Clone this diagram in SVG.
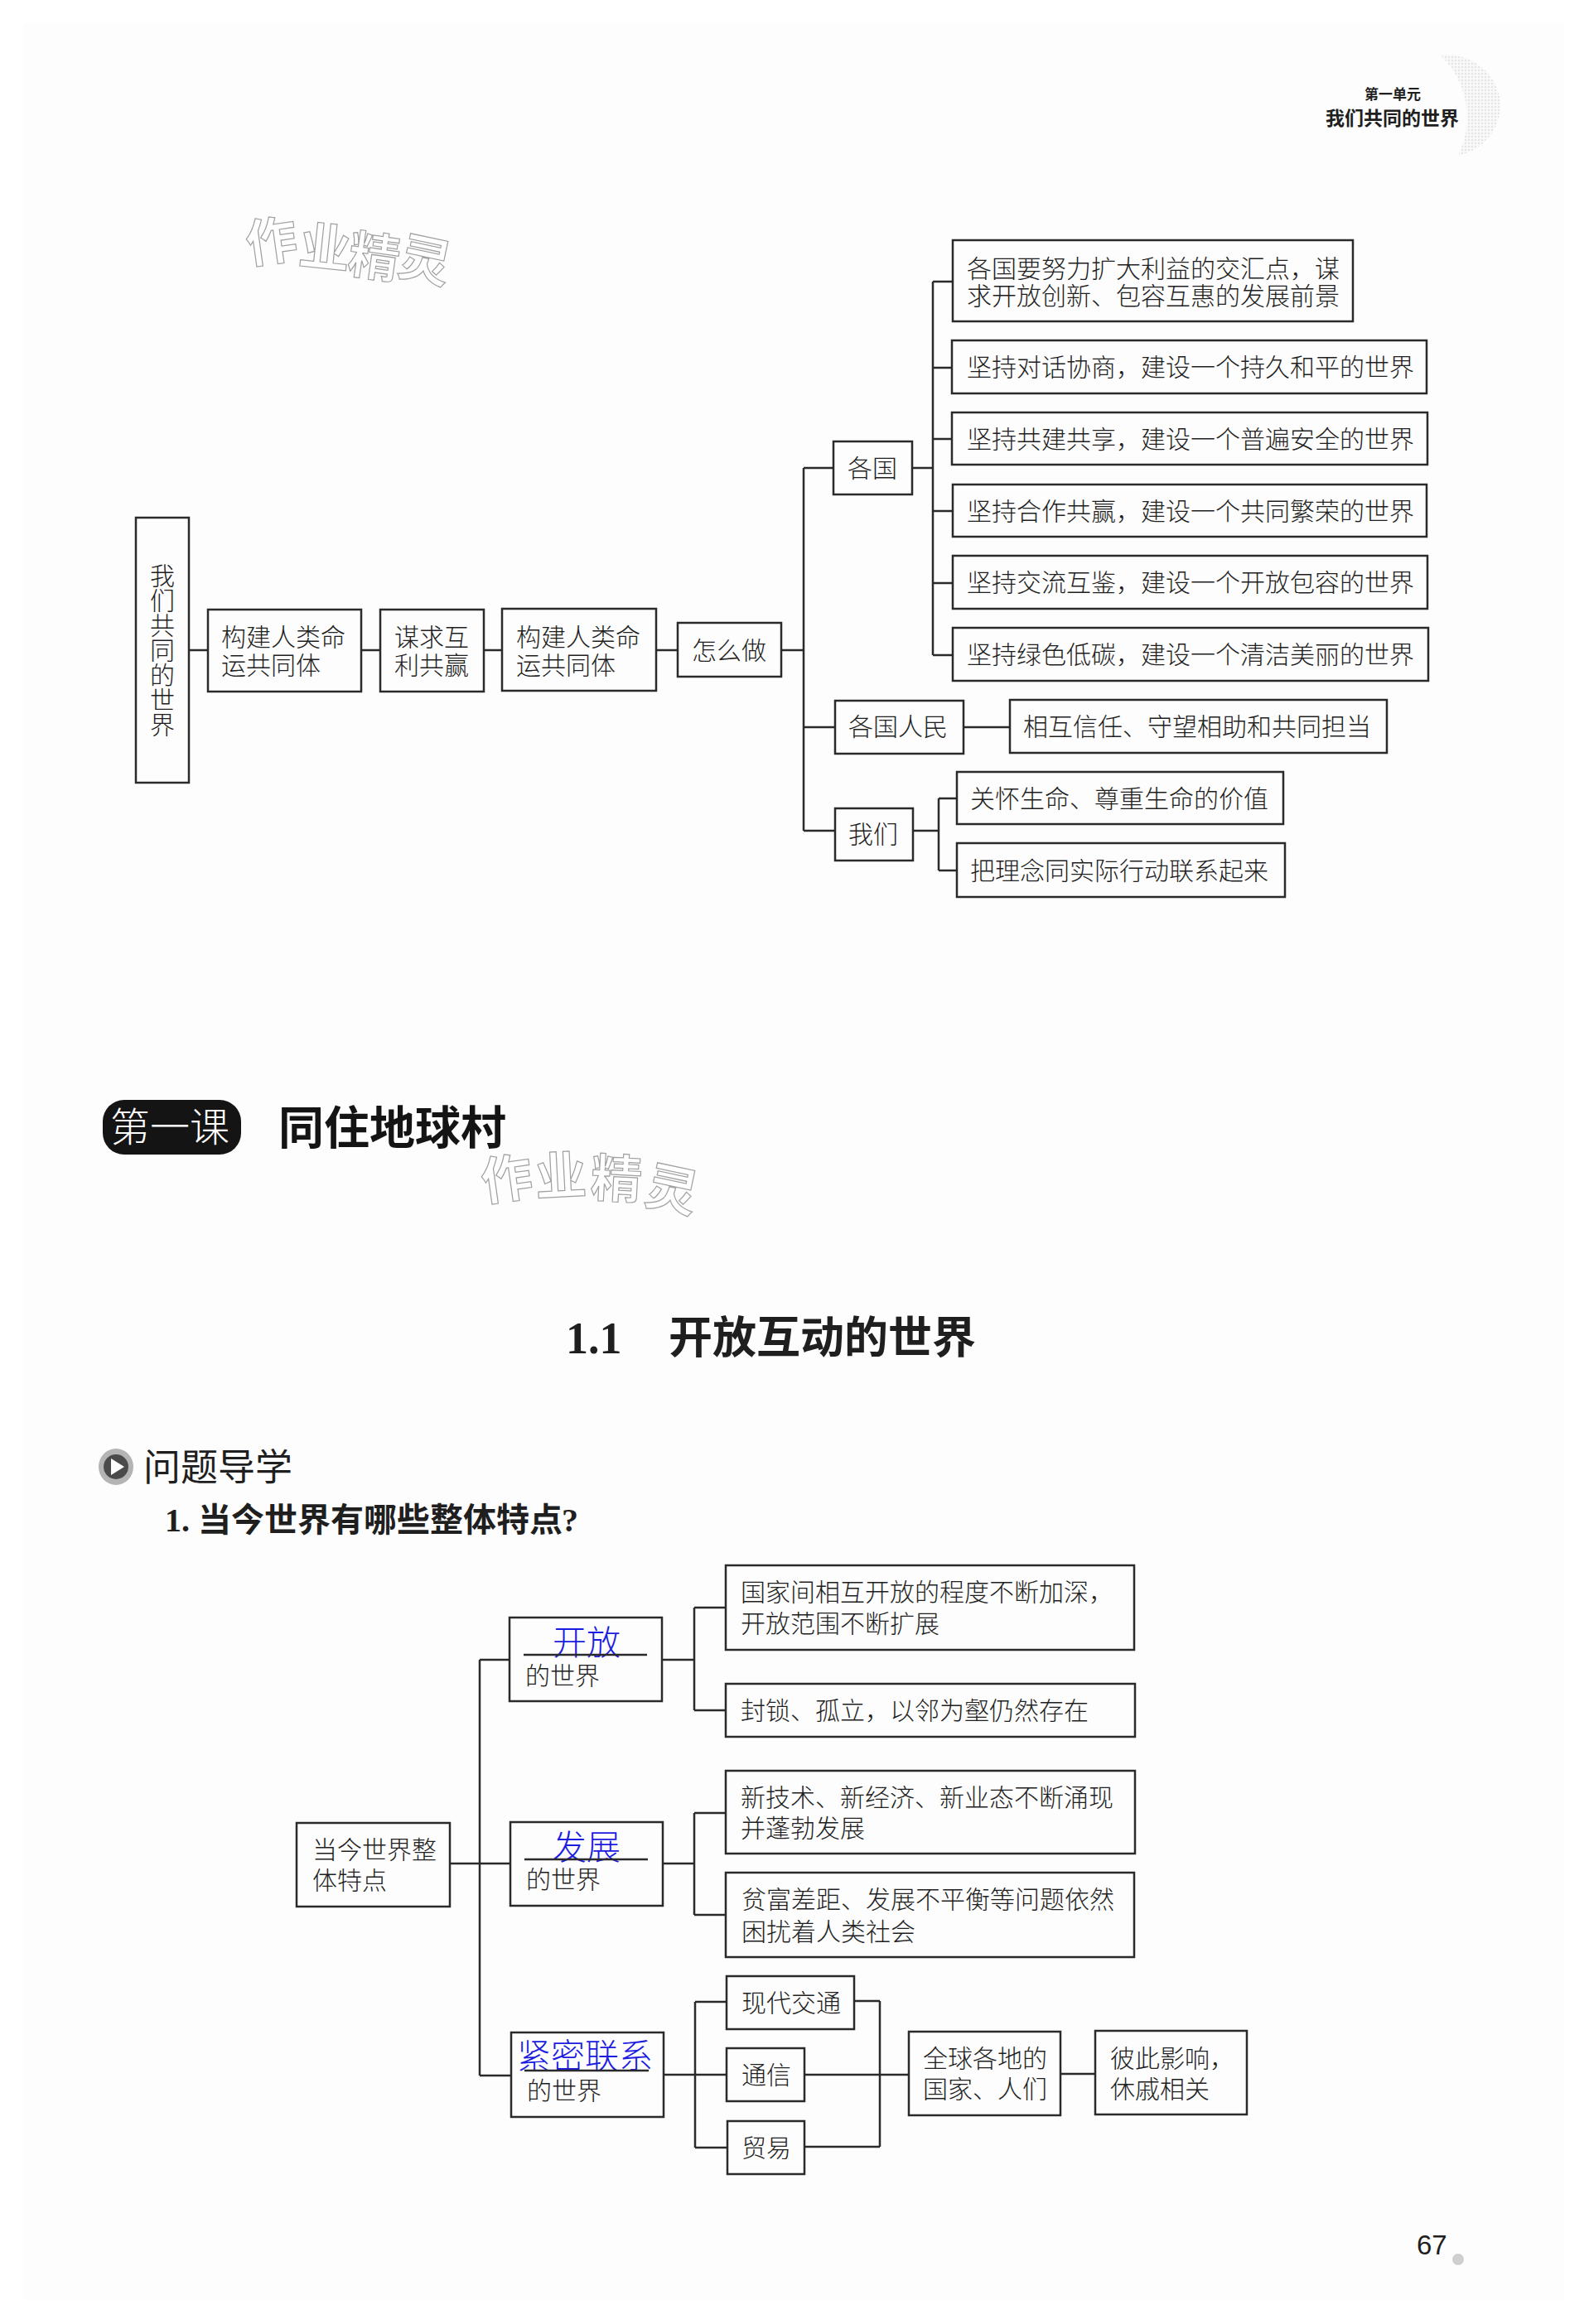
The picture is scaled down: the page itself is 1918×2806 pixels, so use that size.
<svg xmlns="http://www.w3.org/2000/svg" width="1918" height="2806" viewBox="0 0 1918 2806">
<defs><pattern id="stipple" width="4" height="4" patternUnits="userSpaceOnUse"><rect width="4" height="4" fill="#f8f8f8"/><rect width="2" height="2" fill="#e4e4e4"/></pattern></defs>
<style>
text{font-family:"Noto Sans CJK SC","Noto Sans",sans-serif;fill:#1f1f1f}
.t{font-size:30px;font-weight:300}
.s{font-size:30px;font-weight:300}
.b{fill:#1c1ce0;font-size:41px;font-weight:300}
rect.n{fill:#fdfdfd;stroke:#2a2a2a;stroke-width:2.5}
#connectors path{fill:none;stroke:#2a2a2a;stroke-width:2.5}
.u{stroke:#2a2a2a;stroke-width:2.5}
.wm{font-size:62px;font-weight:700;fill:#fff;stroke:#a0a0a0;stroke-width:1.2}
</style>
<rect width="1918" height="2806" fill="#ffffff"/>
<rect x="28" y="28" width="1860" height="2750" fill="#fdfdfd"/>
<path id="decor" d="M1738 66A66 62 0 0 1 1760 188A104 104 0 0 0 1738 66Z" fill="url(#stipple)"/>
<g id="header">
<text x="1647" y="120" style="font-size:17px;font-weight:700">第一单元</text>
<text x="1600" y="151" style="font-size:23px;font-weight:700">我们共同的世界</text>
</g>
<g id="watermarks">
<text class="wm" x="300 359 418 478" y="318 318 328 330" rotate="-8 6 8 12">作业精灵</text>
<text class="wm" x="584 647 712 776" y="1450 1444 1444 1452" rotate="-8 -3 3 12">作业精灵</text>
</g>
<g id="connectors">
<path d="M228 785H251M436 785H459M584 785H606M792 785H818M943 785H970"/>
<path d="M970 565V1003M970 565H1006M970 878H1008M970 1003H1008"/>
<path d="M1101 565H1126M1126 340V791M1126 340H1150M1126 444H1149M1126 530H1149M1126 617H1150M1126 704H1150M1126 791H1150"/>
<path d="M1163 878H1219"/>
<path d="M1102 1003H1133M1133 964V1051M1133 964H1155M1133 1051H1155"/>
<path d="M543 2250H616M579 2004V2506M579 2004H615M579 2506H617"/>
<path d="M799 2004H838M838 1941V2065M838 1941H876M838 2065H876"/>
<path d="M800 2250H838M838 2189V2312M838 2189H876M838 2312H876"/>
<path d="M801 2505H877M839 2417V2593M839 2417H877M839 2593H878"/>
<path d="M1031 2416H1062M971 2592H1062M1062 2416V2592M971 2505H1097M1280 2504H1322"/>
</g>
<g id="root"><rect class="n" x="164" y="625" width="64" height="320"/><text class="t" x="196" y="680" style="writing-mode:vertical-rl">我们共同的世界</text></g>
<g id="n-goujian1"><rect class="n" x="251" y="736" width="185" height="99"/><text class="t" x="267" y="780">构建人类命</text><text class="t" x="267" y="814">运共同体</text></g>
<g id="n-mouqiu"><rect class="n" x="459" y="736" width="125" height="99"/><text class="t" x="476" y="780">谋求互</text><text class="t" x="476" y="814">利共赢</text></g>
<g id="n-goujian2"><rect class="n" x="606" y="735" width="186" height="99"/><text class="t" x="623" y="780">构建人类命</text><text class="t" x="623" y="814">运共同体</text></g>
<g id="n-zenme"><rect class="n" x="818" y="752" width="125" height="65"/><text class="t" x="835" y="796">怎么做</text></g>
<g id="n-geguo"><rect class="n" x="1006" y="533" width="95" height="64"/><text class="t" x="1023" y="576">各国</text></g>
<g id="n-a1"><rect class="n" x="1150" y="290" width="483" height="98"/><text class="t" x="1167" y="335">各国要努力扩大利益的交汇点&#65292;谋</text><text class="t" x="1167" y="368">求开放创新、包容互惠的发展前景</text></g>
<g id="n-a2"><rect class="n" x="1149" y="411" width="573" height="64"/><text class="t" x="1167" y="454">坚持对话协商&#65292;建设一个持久和平的世界</text></g>
<g id="n-a3"><rect class="n" x="1149" y="498" width="574" height="63"/><text class="t" x="1167" y="541">坚持共建共享&#65292;建设一个普遍安全的世界</text></g>
<g id="n-a4"><rect class="n" x="1150" y="585" width="572" height="63"/><text class="t" x="1167" y="628">坚持合作共赢&#65292;建设一个共同繁荣的世界</text></g>
<g id="n-a5"><rect class="n" x="1150" y="671" width="573" height="64"/><text class="t" x="1167" y="714">坚持交流互鉴&#65292;建设一个开放包容的世界</text></g>
<g id="n-a6"><rect class="n" x="1150" y="758" width="574" height="64"/><text class="t" x="1167" y="801">坚持绿色低碳&#65292;建设一个清洁美丽的世界</text></g>
<g id="n-gemin"><rect class="n" x="1008" y="846" width="155" height="64"/><text class="t" x="1024" y="888">各国人民</text></g>
<g id="n-xianghu"><rect class="n" x="1219" y="845" width="455" height="64"/><text class="t" x="1235" y="888">相互信任、守望相助和共同担当</text></g>
<g id="n-women"><rect class="n" x="1008" y="976" width="94" height="63"/><text class="t" x="1024" y="1018">我们</text></g>
<g id="n-guanhuai"><rect class="n" x="1155" y="932" width="394" height="63"/><text class="t" x="1171" y="975">关怀生命、尊重生命的价值</text></g>
<g id="n-ba"><rect class="n" x="1155" y="1018" width="396" height="65"/><text class="t" x="1171" y="1062">把理念同实际行动联系起来</text></g>
<g id="lesson">
<rect x="124" y="1328" width="167" height="66" rx="26" fill="#141414"/>
<text x="133" y="1378" style="font-size:48px;font-weight:300;fill:#fff">第一课</text>
<text x="336" y="1381" style="font-size:55px;font-weight:700;fill:#141414">同住地球村</text>
</g>
<g id="section">
<text x="683" y="1634" style="font-family:'Liberation Serif',serif;font-size:54px;font-weight:700">1.1</text>
<text x="807" y="1634" style="font-size:53px;font-weight:700">开放互动的世界</text>
</g>
<g id="daoxue">
<ellipse cx="140" cy="1771" rx="21" ry="22" fill="#b4b4b4"/>
<circle cx="140" cy="1771" r="15" fill="#4a4a4a"/>
<path d="M134 1761L150 1771L134 1781Z" fill="#fff"/>
<text x="173" y="1788" style="font-size:45px;font-weight:400">问题导学</text>
</g>
<g id="question">
<text x="199" y="1849" style="font-family:'Liberation Serif',serif;font-size:40px;font-weight:700">1.</text>
<text x="239" y="1849" style="font-size:40px;font-weight:700">当今世界有哪些整体特点</text>
<text x="678" y="1849" style="font-family:'Liberation Serif',serif;font-size:40px;font-weight:700">?</text>
</g>
<g id="m-root"><rect class="n" x="358" y="2201" width="185" height="101"/><text class="s" x="377" y="2244">当今世界整</text><text class="s" x="377" y="2281">体特点</text></g>
<g id="m-kaifang"><rect class="n" x="615" y="1953" width="184" height="101"/><text class="b" x="667" y="1998">开放</text><line class="u" x1="632" y1="1998" x2="781" y2="1998"/><text class="s" x="634" y="2034">的世界</text></g>
<g id="m-fazhan"><rect class="n" x="616" y="2200" width="184" height="101"/><text class="b" x="667" y="2245">发展</text><line class="u" x1="633" y1="2245" x2="782" y2="2245"/><text class="s" x="635" y="2280">的世界</text></g>
<g id="m-jinmi"><rect class="n" x="617" y="2454" width="184" height="102"/><text class="b" x="624" y="2497">紧密联系</text><line class="u" x1="633" y1="2500" x2="783" y2="2500"/><text class="s" x="636" y="2535">的世界</text></g>
<g id="m-a1"><rect class="n" x="876" y="1890" width="493" height="102"/><text class="s" x="894" y="1933">国家间相互开放的程度不断加深&#65292;</text><text class="s" x="894" y="1971">开放范围不断扩展</text></g>
<g id="m-a2"><rect class="n" x="876" y="2033" width="494" height="64"/><text class="s" x="894" y="2076">封锁、孤立&#65292;以邻为壑仍然存在</text></g>
<g id="m-b1"><rect class="n" x="876" y="2138" width="494" height="100"/><text class="s" x="894" y="2181">新技术、新经济、新业态不断涌现</text><text class="s" x="894" y="2218">并蓬勃发展</text></g>
<g id="m-b2"><rect class="n" x="876" y="2261" width="493" height="102"/><text class="s" x="895" y="2304">贫富差距、发展不平衡等问题依然</text><text class="s" x="895" y="2343">困扰着人类社会</text></g>
<g id="m-c1"><rect class="n" x="877" y="2386" width="154" height="64"/><text class="s" x="895" y="2429">现代交通</text></g>
<g id="m-c2"><rect class="n" x="877" y="2473" width="94" height="64"/><text class="s" x="895" y="2516">通信</text></g>
<g id="m-c3"><rect class="n" x="878" y="2561" width="93" height="64"/><text class="s" x="895" y="2604">贸易</text></g>
<g id="m-d"><rect class="n" x="1097" y="2453" width="183" height="101"/><text class="s" x="1114" y="2496">全球各地的</text><text class="s" x="1114" y="2533">国家、人们</text></g>
<g id="m-e"><rect class="n" x="1322" y="2452" width="183" height="101"/><text class="s" x="1340" y="2496">彼此影响&#65292;</text><text class="s" x="1340" y="2533">休戚相关</text></g>
<g id="page"><text x="1710" y="2722" style="font-family:'Liberation Sans',sans-serif;font-size:33px">67</text><circle cx="1760" cy="2728" r="7" fill="#cfcfcf"/></g>
</svg>
